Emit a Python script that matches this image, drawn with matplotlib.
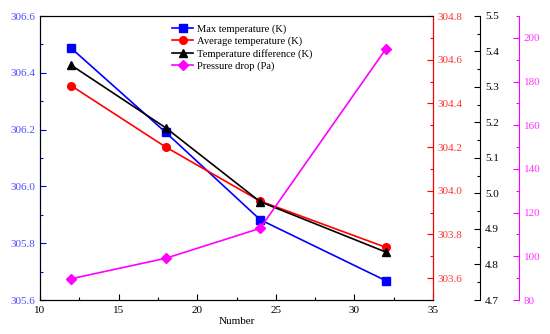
import matplotlib
matplotlib.use("Agg")
import matplotlib.pyplot as plt
from matplotlib.ticker import MultipleLocator, FormatStrFormatter

plt.rcParams['font.family'] = ['Liberation Serif', 'DejaVu Serif']

number = [12, 18, 24, 32]
max_temp = [306.486, 306.190, 305.883, 305.668]
avg_temp = [304.48, 304.20, 303.953, 303.741]
temp_diff = [5.361, 5.185, 4.977, 4.835]
pressure = [89.75, 99.1, 112.8, 194.9]

fig = plt.figure(figsize=(5.5, 3.34), dpi=100)
ax = fig.add_axes([40/550, 34/334, 393/550, 284/334])
ax2 = ax.twinx()
ax3 = ax.twinx()
ax4 = ax.twinx()

fs = 8
tick_kw = dict(direction='in', length=4, width=0.8, labelsize=fs)
minor_kw = dict(direction='in', length=2.2, width=0.8)
ms = 5.5

# main axis
l1, = ax.plot(number, max_temp, color='#0000ff', marker='s', markersize=ms, lw=1.2,
              label='Max temperature (K)')
ax.set_xlim(10, 35)
ax.set_ylim(305.6, 306.6)
ax.xaxis.set_major_locator(MultipleLocator(5))
ax.xaxis.set_minor_locator(MultipleLocator(2.5))
ax.yaxis.set_major_locator(MultipleLocator(0.2))
ax.yaxis.set_minor_locator(MultipleLocator(0.1))
ax.yaxis.set_major_formatter(FormatStrFormatter('%.1f'))
ax.tick_params(axis='both', which='major', **tick_kw)
ax.tick_params(axis='both', which='minor', **minor_kw)
ax.tick_params(axis='x', which='major', pad=4)
ax.tick_params(axis='y', which='both', colors='#0000ff', labelcolor='#4d4dff')
ax.spines['left'].set_color('#0000ff')
ax.spines['top'].set_color('#444444')
ax.set_xlabel('Number', fontsize=fs, labelpad=2)

# red axis
l2, = ax2.plot(number, avg_temp, color='#ff0000', marker='o', markersize=ms, lw=1.2,
               label='Average temperature (K)')
ax2.set_ylim(303.5, 304.8)
ax2.yaxis.set_major_locator(MultipleLocator(0.2))
ax2.yaxis.set_minor_locator(MultipleLocator(0.1))
ax2.yaxis.set_major_formatter(FormatStrFormatter('%.1f'))
ax2.tick_params(axis='y', which='major', **tick_kw)
ax2.tick_params(axis='y', which='minor', **minor_kw)
ax2.tick_params(axis='y', which='both', colors='#ff0000', labelcolor='#ff3333')
ax2.spines['right'].set_color('#ff0000')

# black axis
l3, = ax3.plot(number, temp_diff, color='#000000', marker='^', markersize=ms, lw=1.2,
               label='Temperature difference (K)')
ax3.spines['right'].set_position(('axes', (480-40)/393))
ax3.set_ylim(4.7, 5.5)
ax3.yaxis.set_major_locator(MultipleLocator(0.1))
ax3.yaxis.set_minor_locator(MultipleLocator(0.05))
ax3.yaxis.set_major_formatter(FormatStrFormatter('%.1f'))
ax3.tick_params(axis='y', which='major', **tick_kw)
ax3.tick_params(axis='y', which='minor', **minor_kw)
ax3.spines['right'].set_color('#000000')

# magenta axis
l4, = ax4.plot(number, pressure, color='#ff00ff', marker='D', markersize=5, lw=1.2,
               label='Pressure drop (Pa)')
ax4.spines['right'].set_position(('axes', (519-40)/393))
ax4.set_ylim(80, 210)
ax4.yaxis.set_major_locator(MultipleLocator(20))
ax4.yaxis.set_minor_locator(MultipleLocator(10))
ax4.tick_params(axis='y', which='major', **tick_kw)
ax4.tick_params(axis='y', which='minor', **minor_kw)
ax4.tick_params(axis='y', which='both', colors='#ff00ff', labelcolor='#ff33ff')
ax4.spines['right'].set_color('#ff00ff')

for a in (ax3, ax4):
    a.spines['top'].set_visible(False)
    a.spines['bottom'].set_visible(False)
    a.spines['left'].set_visible(False)

ax4.legend(handles=[l1, l2, l3, l4], loc='upper left',
           bbox_to_anchor=((168-40)/393, 0.985), frameon=False, fontsize=7.6,
           handlelength=2.0, handletextpad=0.3, labelspacing=0.25, borderaxespad=0)

fig.savefig('out.png', dpi=100)
